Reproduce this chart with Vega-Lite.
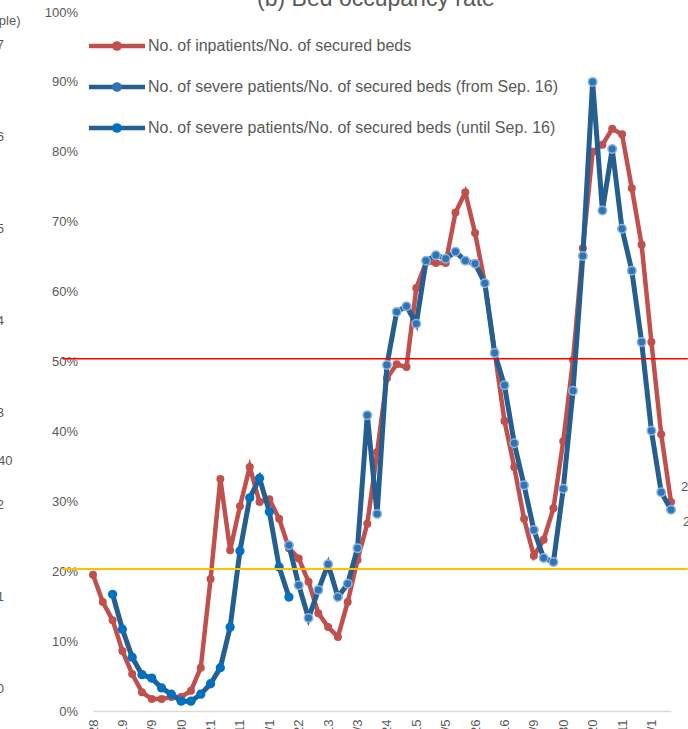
{
 "$schema": "https://vega.github.io/schema/vega-lite/v6.json",
 "width": 578,
 "height": 699,
 "autosize": {"type": "none"},
 "padding": {"left": 93, "top": 12, "right": 17, "bottom": 18},
 "background": "#ffffff",
 "title": {"text": "(b) Bed occupancy rate", "frame": "group", "anchor": "middle", "baseline": "top", "offset": -4.6, "dx": -6, "font": "Liberation Sans", "fontSize": 23, "fontWeight": "normal", "color": "#595959"},
 "config": {
  "view": {"stroke": null},
  "axis": {"grid": false, "labelFont": "Liberation Sans", "labelColor": "#595959", "labelFontSize": 13, "ticks": false, "tickSize": 0, "labelOverlap": false}
 },
 "layer": [
  {
   "data": {"values": [
    {"date":"2020-04-28","inpatients":0.195},
    {"date":"2020-05-05","inpatients":0.156},
    {"date":"2020-05-12","inpatients":0.130,"severe_until":0.167},
    {"date":"2020-05-19","inpatients":0.086,"severe_until":0.117},
    {"date":"2020-05-26","inpatients":0.053,"severe_until":0.077},
    {"date":"2020-06-02","inpatients":0.027,"severe_until":0.052},
    {"date":"2020-06-09","inpatients":0.017,"severe_until":0.047},
    {"date":"2020-06-16","inpatients":0.017,"severe_until":0.033},
    {"date":"2020-06-23","inpatients":0.020,"severe_until":0.024},
    {"date":"2020-06-30","inpatients":0.020,"severe_until":0.014},
    {"date":"2020-07-07","inpatients":0.029,"severe_until":0.014},
    {"date":"2020-07-14","inpatients":0.062,"severe_until":0.024},
    {"date":"2020-07-21","inpatients":0.189,"severe_until":0.039},
    {"date":"2020-07-28","inpatients":0.332,"severe_until":0.062},
    {"date":"2020-08-04","inpatients":0.230,"severe_until":0.120},
    {"date":"2020-08-11","inpatients":0.293,"severe_until":0.229},
    {"date":"2020-08-18","inpatients":0.349,"severe_until":0.305},
    {"date":"2020-08-25","inpatients":0.299,"severe_until":0.333},
    {"date":"2020-09-01","inpatients":0.303,"severe_until":0.285},
    {"date":"2020-09-08","inpatients":0.275,"severe_until":0.206},
    {"date":"2020-09-15","inpatients":0.233,"severe_until":0.163,"severe_from":0.237},
    {"date":"2020-09-22","inpatients":0.218,"severe_from":0.180},
    {"date":"2020-09-29","inpatients":0.185,"severe_from":0.133},
    {"date":"2020-10-06","inpatients":0.140,"severe_from":0.173},
    {"date":"2020-10-13","inpatients":0.120,"severe_from":0.210},
    {"date":"2020-10-20","inpatients":0.106,"severe_from":0.163},
    {"date":"2020-10-27","inpatients":0.156,"severe_from":0.182},
    {"date":"2020-11-03","inpatients":0.216,"severe_from":0.233},
    {"date":"2020-11-10","inpatients":0.268,"severe_from":0.423},
    {"date":"2020-11-17","inpatients":0.370,"severe_from":0.282},
    {"date":"2020-11-24","inpatients":0.476,"severe_from":0.495},
    {"date":"2020-12-01","inpatients":0.496,"severe_from":0.571},
    {"date":"2020-12-08","inpatients":0.492,"severe_from":0.579},
    {"date":"2020-12-15","inpatients":0.605,"severe_from":0.554},
    {"date":"2020-12-22","inpatients":0.642,"severe_from":0.644},
    {"date":"2020-12-29","inpatients":0.641,"severe_from":0.652},
    {"date":"2021-01-05","inpatients":0.641,"severe_from":0.647},
    {"date":"2021-01-12","inpatients":0.713,"severe_from":0.657},
    {"date":"2021-01-19","inpatients":0.742,"severe_from":0.644},
    {"date":"2021-01-26","inpatients":0.684,"severe_from":0.640},
    {"date":"2021-02-02","inpatients":0.612,"severe_from":0.612},
    {"date":"2021-02-09","inpatients":0.514,"severe_from":0.512},
    {"date":"2021-02-16","inpatients":0.415,"severe_from":0.466},
    {"date":"2021-02-23","inpatients":0.349,"severe_from":0.383},
    {"date":"2021-03-02","inpatients":0.275,"severe_from":0.323},
    {"date":"2021-03-09","inpatients":0.222,"severe_from":0.259},
    {"date":"2021-03-16","inpatients":0.245,"severe_from":0.219},
    {"date":"2021-03-23","inpatients":0.290,"severe_from":0.213},
    {"date":"2021-03-30","inpatients":0.386,"severe_from":0.318},
    {"date":"2021-04-06","inpatients":0.502,"severe_from":0.458},
    {"date":"2021-04-13","inpatients":0.662,"severe_from":0.651},
    {"date":"2021-04-20","inpatients":0.800,"severe_from":0.900},
    {"date":"2021-04-27","inpatients":0.810,"severe_from":0.716},
    {"date":"2021-05-04","inpatients":0.833,"severe_from":0.804},
    {"date":"2021-05-11","inpatients":0.825,"severe_from":0.690},
    {"date":"2021-05-18","inpatients":0.748,"severe_from":0.630},
    {"date":"2021-05-25","inpatients":0.667,"severe_from":0.528},
    {"date":"2021-06-01","inpatients":0.528,"severe_from":0.401},
    {"date":"2021-06-08","inpatients":0.396,"severe_from":0.313},
    {"date":"2021-06-15","inpatients":0.299,"severe_from":0.288}
   ]},
   "transform": [{"fold": ["inpatients", "severe_from", "severe_until"], "as": ["series", "value"]}],
   "layer": [
    {
     "transform": [{"filter": "datum.series === 'inpatients'"}],
     "mark": {"type": "line", "strokeWidth": 4.5},
     "encoding": {
      "x": {"field": "date", "type": "temporal",
       "scale": {"type": "utc", "nice": false, "domain": [{"year": 2020, "month": 4, "date": 28, "utc": true}, {"year": 2021, "month": 6, "date": 15, "utc": true}]},
       "axis": {"title": null, "format": "%Y/%-m/%-d", "labelAngle": -90, "labelPadding": 8, "labelOverlap": false, "labelFlush": false, "tickCount": 40,
        "domain": true, "domainColor": "#D9D9D9", "domainWidth": 1.5,
        "values": [
         {"year": 2020, "month": 4, "date": 28, "utc": true},
         {"year": 2020, "month": 5, "date": 19, "utc": true},
         {"year": 2020, "month": 6, "date": 9, "utc": true},
         {"year": 2020, "month": 6, "date": 30, "utc": true},
         {"year": 2020, "month": 7, "date": 21, "utc": true},
         {"year": 2020, "month": 8, "date": 11, "utc": true},
         {"year": 2020, "month": 9, "date": 1, "utc": true},
         {"year": 2020, "month": 9, "date": 22, "utc": true},
         {"year": 2020, "month": 10, "date": 13, "utc": true},
         {"year": 2020, "month": 11, "date": 3, "utc": true},
         {"year": 2020, "month": 11, "date": 24, "utc": true},
         {"year": 2020, "month": 12, "date": 15, "utc": true},
         {"year": 2021, "month": 1, "date": 5, "utc": true},
         {"year": 2021, "month": 1, "date": 26, "utc": true},
         {"year": 2021, "month": 2, "date": 16, "utc": true},
         {"year": 2021, "month": 3, "date": 9, "utc": true},
         {"year": 2021, "month": 3, "date": 30, "utc": true},
         {"year": 2021, "month": 4, "date": 20, "utc": true},
         {"year": 2021, "month": 5, "date": 11, "utc": true},
         {"year": 2021, "month": 6, "date": 1, "utc": true}
        ]}},
      "y": {"field": "value", "type": "quantitative",
       "scale": {"domain": [0, 1], "nice": false},
       "axis": {"title": null, "format": ".0%", "values": [0, 0.1, 0.2, 0.3, 0.4, 0.5, 0.6, 0.7, 0.8, 0.9, 1], "labelPadding": 15.5, "domain": false, "labelOverlap": false}},
      "stroke": {"field": "series", "type": "nominal",
       "scale": {"domain": ["inpatients", "severe_from", "severe_until"], "range": ["#C0504D", "#255E91", "#255E91"]},
       "legend": {"orient": "none", "legendX": 12, "legendY": 22, "title": null,
        "symbolType": "M-3,0L3,0", "symbolSize": 350, "symbolStrokeWidth": 4.5,
        "labelExpr": "datum.value === 'inpatients' ? 'No. of inpatients/No. of secured beds' : datum.value === 'severe_from' ? 'No. of severe patients/No. of secured beds (from Sep. 16)' : 'No. of severe patients/No. of secured beds (until Sep. 16)'",
        "labelFont": "Liberation Sans", "labelFontSize": 16, "labelColor": "#595959", "labelLimit": 600, "labelOffset": 19, "rowPadding": 20}}
     }
    },
    {
     "transform": [{"filter": "datum.series === 'inpatients'"}],
     "mark": {"type": "point", "filled": true, "opacity": 1, "size": 64},
     "encoding": {
      "x": {"field": "date", "type": "temporal"},
      "y": {"field": "value", "type": "quantitative"},
      "fill": {"field": "series", "type": "nominal",
       "scale": {"range": ["#C0504D", "#2E75B6", "#0070C0"]},
       "legend": {"orient": "none", "legendX": 16, "legendY": 26, "title": null,
        "symbolType": "circle", "symbolSize": 94, "symbolStrokeWidth": 4.5, "symbolStrokeColor": "transparent",
        "labelExpr": "''",
        "labelFont": "Liberation Sans", "labelFontSize": 16, "labelOpacity": 0, "labelLimit": 600, "labelOffset": 19, "rowPadding": 13}}
     }
    },
    {
     "transform": [{"filter": "datum.series === 'severe_from'"}],
     "mark": {"type": "line", "strokeWidth": 5},
     "encoding": {
      "x": {"field": "date", "type": "temporal"},
      "y": {"field": "value", "type": "quantitative"},
      "stroke": {"field": "series", "type": "nominal"}
     }
    },
    {
     "transform": [{"filter": "datum.series === 'severe_from'"}],
     "mark": {"type": "point", "filled": true, "opacity": 1, "size": 72, "stroke": "#8DB4E2", "strokeWidth": 1.5},
     "encoding": {
      "x": {"field": "date", "type": "temporal"},
      "y": {"field": "value", "type": "quantitative"},
      "fill": {"field": "series", "type": "nominal"}
     }
    },
    {
     "transform": [{"filter": "datum.series === 'severe_until'"}],
     "mark": {"type": "line", "strokeWidth": 5},
     "encoding": {
      "x": {"field": "date", "type": "temporal"},
      "y": {"field": "value", "type": "quantitative"},
      "stroke": {"field": "series", "type": "nominal"}
     }
    },
    {
     "transform": [{"filter": "datum.series === 'severe_until'"}],
     "mark": {"type": "point", "filled": true, "opacity": 1, "size": 86},
     "encoding": {
      "x": {"field": "date", "type": "temporal"},
      "y": {"field": "value", "type": "quantitative"},
      "fill": {"field": "series", "type": "nominal"}
     }
    },
    {
     "transform": [{"filter": "datum.series === 'inpatients' && time(datum.date) === utc(2021, 5, 15)"}],
     "mark": {"type": "text", "align": "left", "baseline": "middle", "dx": 10, "dy": -15, "font": "Liberation Sans", "fontSize": 13, "color": "#595959"},
     "encoding": {
      "x": {"field": "date", "type": "temporal"},
      "y": {"field": "value", "type": "quantitative"},
      "text": {"field": "value", "type": "quantitative", "format": ".1%"}
     }
    },
    {
     "transform": [{"filter": "datum.series === 'severe_from' && time(datum.date) === utc(2021, 5, 15)"}],
     "mark": {"type": "text", "align": "left", "baseline": "middle", "dx": 12, "dy": 12, "font": "Liberation Sans", "fontSize": 13, "color": "#595959"},
     "encoding": {
      "x": {"field": "date", "type": "temporal"},
      "y": {"field": "value", "type": "quantitative"},
      "text": {"field": "value", "type": "quantitative", "format": ".1%"}
     }
    },
    {
     "data": {"values": [{"level": 0.203}]},
     "mark": {"type": "rule", "color": "#FFC000", "strokeWidth": 2},
     "encoding": {
      "y": {"field": "level", "type": "quantitative"},
      "x": {"datum": {"year": 2020, "month": 4, "date": 6, "utc": true}, "type": "temporal"},
      "x2": {"datum": {"year": 2021, "month": 6, "date": 27, "utc": true}}
     }
    },
    {
     "data": {"values": [{"level": 0.504}]},
     "mark": {"type": "rule", "color": "#FF0000", "strokeWidth": 1.5},
     "encoding": {
      "y": {"field": "level", "type": "quantitative"},
      "x": {"datum": {"year": 2020, "month": 4, "date": 6, "utc": true}, "type": "temporal"},
      "x2": {"datum": {"year": 2021, "month": 6, "date": 27, "utc": true}}
     }
    }
   ]
  },
  {
   "data": {"values": [{"v": 0}, {"v": 7}]},
   "mark": {"type": "point", "opacity": 0},
   "encoding": {
    "y": {"field": "v", "type": "quantitative",
     "scale": {"domain": [-0.25, 7.348], "nice": false, "zero": false},
     "axis": {"orient": "left", "offset": 89.5, "values": [0, 1, 2, 2.478, 3, 4, 5, 6, 7],
      "labelExpr": "datum.value > 2.4 && datum.value < 2.6 ? '40' : format(datum.value, 'd')",
      "labelPadding": {"condition": {"test": "datum.value > 2.4 && datum.value < 2.6", "value": -8.5}, "value": 0},
      "domain": false, "labelOverlap": false, "labelFontSize": 13,
      "title": "(No. of people)", "titleAngle": 0, "titleX": 16.5, "titleY": 8, "titleAlign": "right", "titleBaseline": "middle",
      "titleFont": "Liberation Sans", "titleFontSize": 13, "titleFontWeight": "normal", "titleColor": "#595959"}}
   }
  }
 ],
 "resolve": {"scale": {"y": "independent"}}
}
